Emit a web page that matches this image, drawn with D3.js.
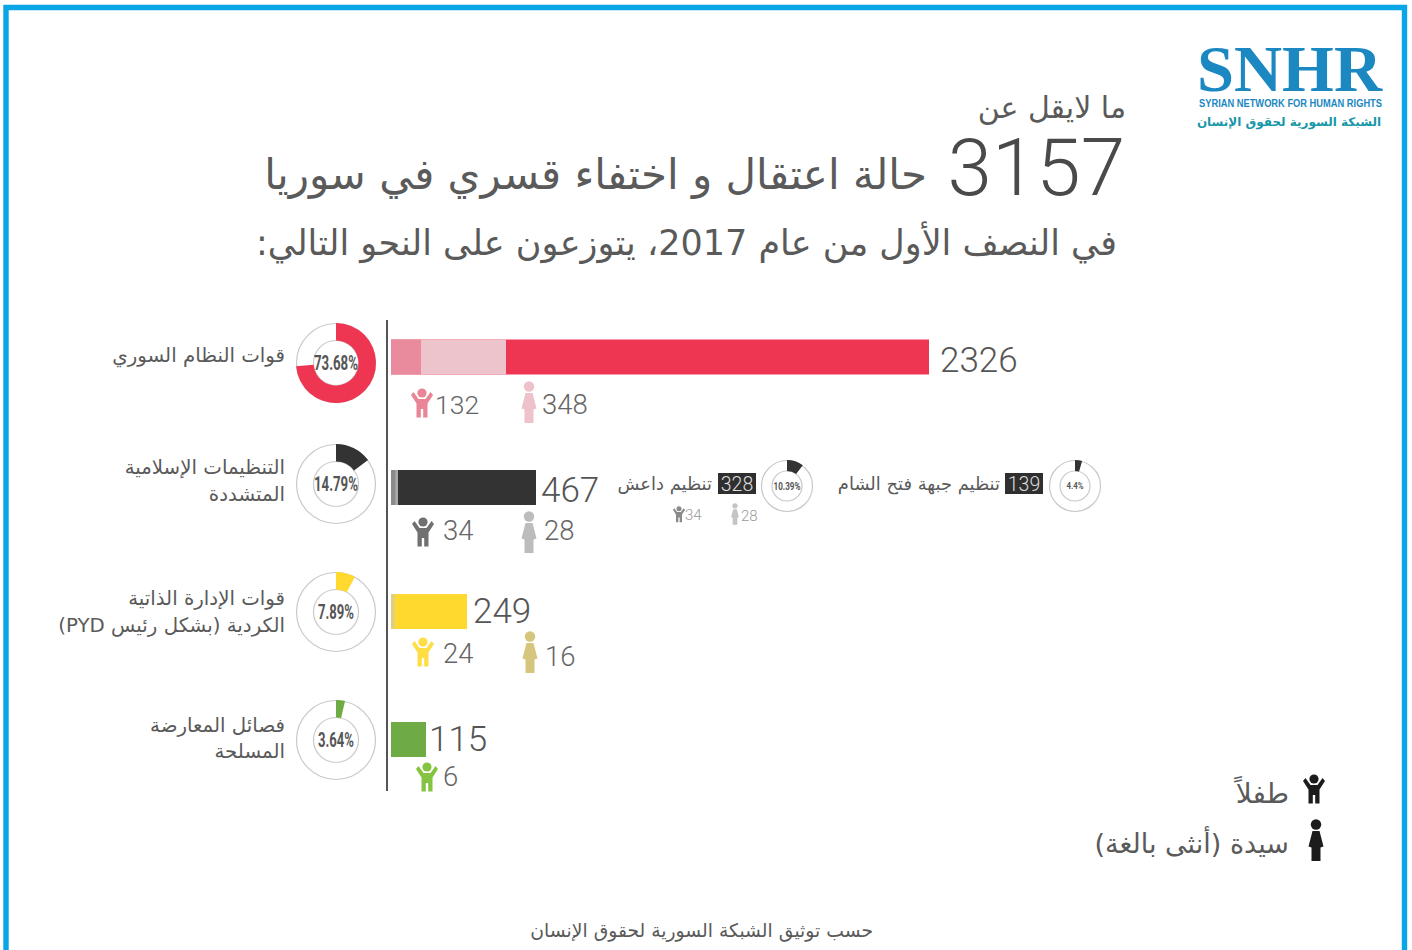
<!DOCTYPE html>
<html lang="ar"><head><meta charset="utf-8">
<script src="https://cdn.jsdelivr.net/npm/d3@7/dist/d3.min.js"></script>
<style>html,body{margin:0;padding:0;background:#fff;overflow:hidden}svg{display:block}
.ar{font-family:"DejaVu Sans",sans-serif}
.num{font-family:Roboto,"Liberation Sans",sans-serif;font-weight:300}
</style></head><body>
<svg id="c" width="1412" height="950"></svg>
<script>
const categories=[["قوات النظام السوري"],["التنظيمات الإسلامية","المتشددة"],["قوات الإدارة الذاتية","الكردية (بشكل رئيس PYD)"],["فصائل المعارضة","المسلحة"]];
const totals=[2326,467,249,115];
const children=[132,34,24,6];
const women=[348,28,16,null];
const shares=[73.68,14.79,7.89,3.64];
const subNames=["تنظيم داعش","تنظيم جبهة فتح الشام"];
const subTotals=[328,139];
const subShares=[10.39,4.4];
const subChildren=[34,null];
const subWomen=[28,null];
const barColors=["#ee3552","#333333","#ffd92e","#6fab45"];
const childColors=["#e98597","#707070","#ffdd45","#84c441"];
const womanColors=["#edc2cb","#bcbcbc","#d6c67d","none"];
const segChildColors=["#e98b9c","#8a8a8a","#e2cf7c","#6fab45"];
const segWomanColors=["#edc3cc","#a9a9a9","#f0d65a","#6fab45"];

const svg=d3.select("#c");
const ink="#5a5a5a";
const CHILD="M4 7 L6.5 4 L11.5 11 H18.5 L23.5 4 L26 7 L20.5 15.5 V29.5 H16.2 V21 H13.8 V29.5 H9.5 V15.5 Z";
const WOMAN="M6.5 12 H13.5 L17.5 27.5 L14.5 28.5 V42 H5.5 V28.5 L2.5 27.5 Z";
function child(x,y,s,col){const g=svg.append("g").attr("transform",`translate(${x-15*s},${y})scale(${s})`).attr("fill",col);
  g.append("circle").attr("cx",15).attr("cy",5).attr("r",4.6);g.append("path").attr("d",CHILD);}
function woman(x,y,s,col){const g=svg.append("g").attr("transform",`translate(${x-10*s},${y})scale(${s})`).attr("fill",col);
  g.append("circle").attr("cx",10).attr("cy",5.5).attr("r",5.2);g.append("path").attr("d",WOMAN);}
function ar(x,y,t,size,col,weight){return svg.append("text").attr("class","ar").attr("x",x).attr("y",y).attr("text-anchor","start")
  .attr("direction","rtl").style("direction","rtl").attr("font-size",size).attr("fill",col||ink).attr("font-weight",weight||400).text(t);}
function num(x,y,t,size,col,anchor){return svg.append("text").attr("class","num").attr("x",x).attr("y",y).attr("font-size",size)
  .attr("fill",col||ink).attr("text-anchor",anchor||"start").text(t);}

// frame
svg.append("path").attr("d","M6 950 V7.5 H1404.5 V950").attr("fill","none").attr("stroke","#0aa5e6").attr("stroke-width",5.4);

// logo
svg.append("text").attr("x",1197).attr("y",91).attr("font-family","Liberation Serif").attr("font-weight",700).attr("font-size",66)
  .attr("textLength",185).attr("lengthAdjust","spacingAndGlyphs").attr("fill","#1b88c2").text("SNHR");
svg.append("text").attr("x",1199).attr("y",107).attr("font-family","Liberation Sans").attr("font-weight",700).attr("font-size",10)
  .attr("textLength",183).attr("lengthAdjust","spacingAndGlyphs").attr("fill","#1b88c2").text("SYRIAN NETWORK FOR HUMAN RIGHTS");
ar(1381,126,"الشبكة السورية لحقوق الإنسان",12,"#1797a8",700);

// titles
ar(1126,118,"ما لايقل عن",30);
num(1125,195,"3157",80,"#4a4a4a","end");
ar(927,189,"حالة اعتقال و اختفاء قسري في سوريا",42);
ar(1117,255,"في النصف الأول من عام 2017، يتوزعون على النحو التالي:",35);

// axis line
const rowY=d3.scaleOrdinal().domain(d3.range(4)).range([339.5,470,594,722]);
const barH=35, x0=391;
const barLen=d3.scaleLinear().domain([0,115,249,467,2326]).range([0,35,76,145,538]);
const segLen=d3.scaleLinear().domain([0,6,40,62,132,480]).range([0,1,5,7,30,115]);
svg.append("line").attr("x1",387).attr("x2",387).attr("y1",320).attr("y2",791).attr("stroke","#555").attr("stroke-width",2);

// bars
const rows=d3.range(4);
svg.selectAll("rect.t").data(rows).join("rect").attr("class","t").attr("x",x0).attr("y",i=>rowY(i)).attr("height",barH)
  .attr("width",i=>barLen(totals[i])).attr("fill",i=>barColors[i]);
svg.selectAll("rect.w").data(rows).join("rect").attr("class","w").attr("x",x0).attr("y",i=>rowY(i)).attr("height",barH)
  .attr("width",i=>segLen(children[i]+(women[i]||0))).attr("fill",i=>segWomanColors[i]);
svg.selectAll("rect.c").data(rows).join("rect").attr("class","c").attr("x",x0).attr("y",i=>rowY(i)).attr("height",barH)
  .attr("width",i=>segLen(children[i])).attr("fill",i=>segChildColors[i]);
rows.forEach(i=>num(x0+barLen(totals[i])+[11,5,6,3][i],rowY(i)+[32,32,29,29][i],totals[i],35,"#555"));

// donuts
const arc=d3.arc();
function donut(cx,cy,r,ri,pct,col,size,lw){
  const g=svg.append("g").attr("transform",`translate(${cx},${cy})`);
  g.append("circle").attr("r",r-.5).attr("fill","none").attr("stroke","#c9c9c9").attr("stroke-width",1.2);
  g.append("circle").attr("r",ri).attr("fill","none").attr("stroke","#c9c9c9").attr("stroke-width",1.2);
  const scale=d3.scaleLinear().domain([0,100]).range([0,2*Math.PI]);
  g.append("path").attr("d",arc({innerRadius:ri,outerRadius:r,startAngle:0,endAngle:scale(pct)})).attr("fill",col);
  g.append("text").attr("text-anchor","middle").attr("y",size*.36).attr("font-family","Roboto").attr("font-weight",700).attr("font-size",size)
    .attr("textLength",lw).attr("lengthAdjust","spacingAndGlyphs").attr("fill","#555").text(pct===4.4?"4.4%":pct.toFixed(2)+"%");
}
const donutY=[363,484,612,740];
rows.forEach(i=>donut(336,donutY[i],40,22.5,shares[i],barColors[i],20,i<2?44:36));

// category labels
const catY=[[362],[474,501],[605,632],[732,758]];
categories.forEach((c,i)=>c.forEach((t,j)=>ar(285,catY[i][j],t,19.8)));

// people under bars
const childPos=[[422,388,435,414],[423,517,443,540],[423,637,443,663],[427,762,443,786]];
const womanPos=[[529,381,542,414],[529,511,544,540],[530,631,545,666]];
rows.forEach(i=>{const p=childPos[i];child(p[0],p[1],1,childColors[i]);num(p[2],p[3],children[i],i?27.5:26.5,"#666");
  if(women[i]!=null){const q=womanPos[i];woman(q[0],q[1],1,womanColors[i]);num(q[2],q[3],women[i],27.5,"#666");}});

// sub groups
const subPos=[{d:787,box:718,bw:38,t:712},{d:1075,box:1005,bw:38,t:1000}];
subNames.forEach((n,i)=>{const p=subPos[i];
  donut(p.d,486,26,15,subShares[i],"#333",i?9:10.5,i?17:27);
  svg.append("rect").attr("x",p.box).attr("y",473).attr("width",p.bw).attr("height",21).attr("fill","#2f2f2f");
  num(p.box+p.bw/2,490.5,subTotals[i],19.5,"#ddd","middle");
  ar(p.t,490,n,17.9);
  if(subChildren[i]!=null){child(679,506,.55,"#8a8a8a");num(685,520,subChildren[i],15,"#999");
    woman(735,503,.52,"#c4c4c4");num(741,521,subWomen[i],15,"#999");}
});

// legend
child(1314,774,1,"#1c1c1c");
woman(1316,819,1,"#1c1c1c");
ar(1289,803,"طفلاً",28);
ar(1289,853,"سيدة (أنثى بالغة)",27);

// footer
ar(873,937,"حسب توثيق الشبكة السورية لحقوق الإنسان",18.8);
</script></body></html>
